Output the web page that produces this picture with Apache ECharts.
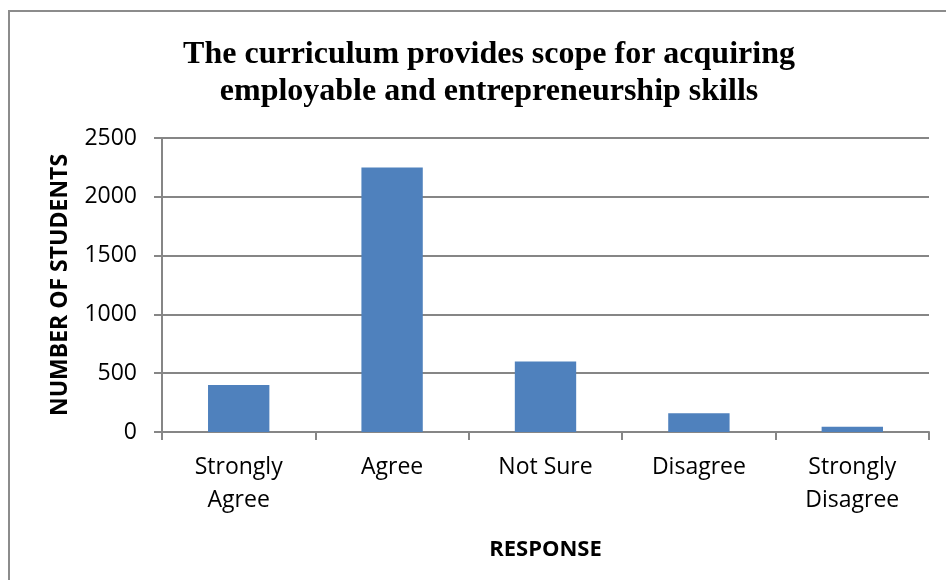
<!DOCTYPE html>
<html>
<head>
<meta charset="utf-8">
<script src="https://cdn.jsdelivr.net/npm/echarts@6/dist/echarts.min.js"></script>
<style>
html,body{margin:0;padding:0;background:#fff;}
#frame{position:absolute;left:8px;top:10px;width:960px;height:600px;border-left:2px solid #8c8c8c;border-top:2px solid #8c8c8c;}
#chart{position:absolute;left:0;top:0;width:946px;height:580px;}
</style>
</head>
<body>
<div id="frame"></div>
<div id="chart"></div>
<script>
const titleText = 'The curriculum provides scope for acquiring\nemployable and entrepreneurship skills';
const categories = ['Strongly\nAgree', 'Agree', 'Not Sure', 'Disagree', 'Strongly\nDisagree'];
const students = [400, 2250, 600, 160, 45];
const yTicks = { min: 0, max: 2500, interval: 500 };
const xAxisName = 'RESPONSE';
const yAxisName = 'NUMBER OF STUDENTS';

const chart = echarts.init(document.getElementById('chart'), null, { renderer: 'canvas' });
chart.setOption({
  backgroundColor: 'transparent',
  animation: false,
  title: {
    text: titleText,
    left: 484,
    textAlign: 'center',
    top: 31,
    textStyle: {
      fontFamily: 'Liberation Serif',
      fontWeight: 'bold',
      fontSize: 32,
      lineHeight: 37,
      color: '#000'
    }
  },
  grid: { left: 162, right: 17, top: 138, bottom: 148, containLabel: false },
  xAxis: {
    type: 'category',
    data: categories,
    name: xAxisName,
    nameLocation: 'middle',
    nameGap: 107,
    nameTextStyle: { fontFamily: 'Open Sans', fontWeight: 'bold', fontSize: 22, color: '#000' },
    axisLine: { lineStyle: { color: '#868686', width: 2 } },
    axisTick: { show: true, length: 8, alignWithLabel: false, lineStyle: { color: '#868686', width: 2 } },
    axisLabel: { fontFamily: 'Open Sans', fontSize: 23, lineHeight: 33, color: '#000', margin: 19, interval: 0 }
  },
  yAxis: {
    type: 'value',
    min: yTicks.min,
    max: yTicks.max,
    interval: yTicks.interval,
    name: yAxisName,
    nameLocation: 'middle',
    nameGap: 90,
    nameTextStyle: { fontFamily: 'Open Sans', fontWeight: 'bold', fontSize: 23, color: '#000' },
    axisLine: { show: true, lineStyle: { color: '#868686', width: 2 } },
    axisTick: { show: true, length: 8, lineStyle: { color: '#868686', width: 2 } },
    splitLine: { show: true, lineStyle: { color: '#868686', width: 2 } },
    axisLabel: { fontFamily: 'Open Sans', fontSize: 23, color: '#000', margin: 25, formatter: v => String(v) }
  },
  series: [{
    type: 'bar',
    data: students,
    barCategoryGap: '60%',
    itemStyle: { color: '#4f81bd' }
  }]
});
</script>
</body>
</html>
